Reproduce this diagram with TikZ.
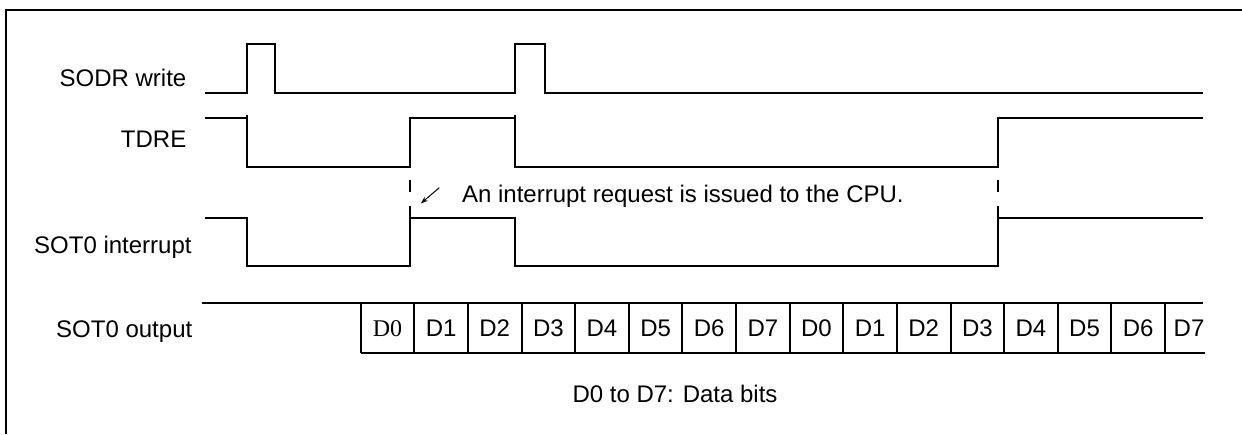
\documentclass[tikz,border=0pt]{standalone}
\usepackage{fontspec}
\setmainfont{Liberation Sans}
\newfontfamily\timesfont{Liberation Serif}
\usetikzlibrary{arrows.meta}
\tikzset{
  sig/.style={line width=1pt, line join=miter},
  frameline/.style={line width=1pt},
  guide/.style={line width=0.8pt, dash pattern=on 5 off 12},
  guidetwo/.style={line width=0.8pt, dash pattern=on 6 off 7},
  lbl/.style={inner sep=0pt, font=\fontsize{12}{14}\selectfont},
  bitlbl/.style={inner sep=0pt, anchor=base, font=\fontsize{12}{14}\selectfont},
  pointer/.style={line width=0.5pt, -{Stealth[length=3.5pt,width=2.6pt]}}
}
\begin{document}
\begin{tikzpicture}[x=0.5pt,y=-0.5pt]
\useasboundingbox (0,0) rectangle (1242,434);
% frame
\draw[frameline] (6,434) -- (6,10) -- (1242,10);
% labels
\node[lbl, anchor=base east] (lsodr) at (186.7,86.7) {SODR write};
\node[lbl, anchor=base east] (ltdre) at (186.7,147.3) {TDRE};
\node[lbl, anchor=base east] (lint) at (192,253.3) {SOT0 interrupt};
\node[lbl, anchor=base east] (lout) at (192.7,337.3) {SOT0 output};
% SODR write
\draw[sig] (205,93.3) -- (247,93.3) -- (247,44) -- (275,44) -- (275,93.3)
  -- (514.7,93.3) -- (514.7,44) -- (545,44) -- (545,93.3) -- (1202.7,93.3);
% TDRE
\draw[sig] (205,117.7) -- (247,117.7) -- (247,167) -- (410,167) -- (410,117.7)
  -- (514.7,117.7) -- (514.7,167) -- (997.7,167) -- (997.7,117.7) -- (1202.7,117.7);
% SOT0 interrupt
\draw[sig] (205,217.7) -- (246.7,217.7) -- (246.7,265.7) -- (410,265.7) -- (410,217.7)
  -- (514.7,217.7) -- (514.7,265.7) -- (997.7,265.7) -- (997.7,217.7) -- (1202.7,217.7);
% guide dashes
\draw[guide, dash phase=6] (247,93.3) -- (247,117.7);
\draw[guide, dash phase=6] (514.7,93.3) -- (514.7,117.7);
\draw[guidetwo] (410,180) -- (410,217.7);
\draw[guidetwo] (997.7,180) -- (997.7,217.7);
% interrupt note
\coordinate (ptail) at (439.3,187.7);
\coordinate (phead) at (421,203.3);
\draw[pointer] (ptail) -- (phead);
\node[lbl, anchor=base west] (note) at (461.7,202.3) {An interrupt request is issued to the CPU.};
% SOT0 output
\draw[sig] (202,302.7) -- (1202.7,302.7);
\draw[sig] (360.7,352.5) -- (1205,352.5);
\foreach \i in {0,...,15} {
  \pgfmathsetmacro{\xx}{360.7+53.62*\i}
  \draw[sig] (\xx,302.7) -- (\xx,352.5);
}
\node[bitlbl, font=\fontsize{12}{14}\selectfont\timesfont] (b0) at (387.5,336) {D0};
\foreach \i/\t in {1/D1,2/D2,3/D3,4/D4,5/D5,6/D6,7/D7,8/D0,9/D1,10/D2,11/D3,12/D4,13/D5,14/D6} {
  \pgfmathsetmacro{\xx}{360.7+53.62*\i+26.81}
  \node[bitlbl] (b\i) at (\xx,336) {\t};
}
\node[bitlbl] (b15) at (1189,336) {D7};
% legend
\node[bitlbl] (legend) at (675,402.3) {D0 to D7: Data bits};
\end{tikzpicture}
\end{document}
